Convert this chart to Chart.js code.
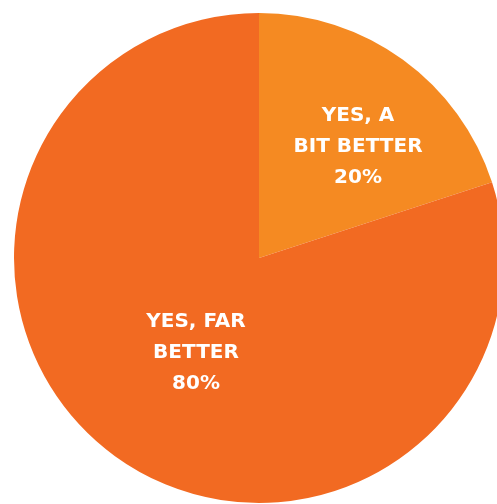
<!DOCTYPE html>
<html>
<head>
<meta charset="utf-8">
<script src="https://cdn.jsdelivr.net/npm/chart.js@4/dist/chart.umd.min.js"></script>
<style>
    html, body { margin: 0; padding: 0; background: #ffffff; overflow: hidden; }
    #wrap { width: 497px; height: 504px; overflow: hidden; position: relative; }
    #box { width: 518px; height: 516px; position: absolute; left: 0; top: 0; }
</style>
</head>
<body>
<div id="wrap"><div id="box"><canvas id="pieChart"></canvas></div></div>
<script>
// Pie data
const sliceLabels = [["YES, A", "BIT BETTER"], ["YES, FAR", "BETTER"]];
const sliceValues = [20, 80];
const sliceColors = ["#F58A22", "#F26A22"];

// draws the label text inside each slice
const sliceText = {
    id: "sliceText",
    afterDatasetsDraw(chart, args, opts) {
        const ctx = chart.ctx;
        const meta = chart.getDatasetMeta(0);
        ctx.save();
        ctx.fillStyle = "#ffffff";
        ctx.font = "bold 20px 'DejaVu Sans'";
        ctx.textAlign = "center";
        ctx.textBaseline = "middle";
        meta.data.forEach((arc, i) => {
            const a = opts.anchors[i];
            const rad = a.angle * Math.PI / 180;
            const x = arc.x + Math.cos(rad) * arc.outerRadius * a.r;
            const y = arc.y + Math.sin(rad) * arc.outerRadius * a.r;
            const lines = sliceLabels[i].concat([sliceValues[i] + "%"]);
            lines.forEach((line, k) => {
                ctx.fillText(line, x, y + 1 + (k - 1) * 31);
            });
        });
        ctx.restore();
    }
};

new Chart(document.getElementById("pieChart"), {
    type: "pie",
    data: {
        labels: sliceLabels.map(l => l.join(" ")),
        datasets: [{
            data: sliceValues,
            backgroundColor: sliceColors,
            borderWidth: 0
        }]
    },
    options: {
        responsive: true,
        maintainAspectRatio: false,
        animation: false,
        layout: { padding: 13 },
        plugins: {
            legend: { display: false },
            tooltip: { enabled: false },
            sliceText: {
                anchors: [{ angle: -48.5, r: 0.61 }, { angle: 124, r: 0.46 }]
            }
        }
    },
    plugins: [sliceText]
});
</script>
</body>
</html>
